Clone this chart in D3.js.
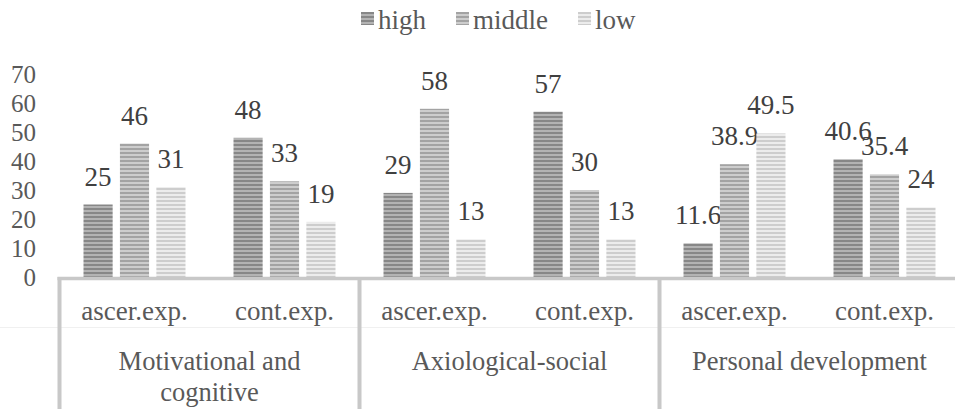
<!DOCTYPE html>
<html>
<head>
<meta charset="utf-8">
<script src="https://cdn.jsdelivr.net/npm/d3@7"></script>
<style>
  html, body { margin: 0; padding: 0; background: #fff; }
  svg { display: block; }
</style>
</head>
<body>
<svg id="chart" width="955" height="409"></svg>
<script>
// ---- data ----
const groups = ["Motivational and cognitive", "Axiological-social", "Personal development"];
const subCategories = ["ascer.exp.", "cont.exp."];
const series = ["high", "middle", "low"];
const highValues   = [25, 48, 29, 57, 11.6, 40.6];
const middleValues = [46, 33, 58, 30, 38.9, 35.4];
const lowValues    = [31, 19, 13, 13, 49.5, 24];
const labelTexts = {
  high:   ["25", "48", "29", "57", "11.6", "40.6"],
  middle: ["46", "33", "58", "30", "38.9", "35.4"],
  low:    ["31", "19", "13", "13", "49.5", "24"]
};
const yTicks = [0, 10, 20, 30, 40, 50, 60, 70];

// ---- setup ----
const FONT = '"Liberation Serif"';
const svg = d3.select("#chart");
const W = 955, H = 409;
const x0 = 59.5, x1 = 959.5;
const yBase = 277, yTop = 74;

const valuesBySeries = { high: highValues, middle: middleValues, low: lowValues };
const cells = [];
groups.forEach((g, gi) => subCategories.forEach((s, si) => cells.push({ g, s, key: gi + "|" + si, idx: gi * 2 + si })));

const xGroup = d3.scaleBand().domain(groups).range([x0, x1]).padding(0);
const xCell = d3.scaleBand().domain(cells.map(c => c.key)).range([x0, x1]).padding(0);
const y = d3.scaleLinear().domain([0, 70]).range([yBase, yTop]);

// patterns
const defs = svg.append("defs");
const patternColors = {
  high:   ["#878787", "#b3b3b3"],
  middle: ["#a3a3a3", "#cdcdcd"],
  low:    ["#cdcdcd", "#ececec"]
};
series.forEach(s => {
  const p = defs.append("pattern").attr("id", "pat-" + s)
    .attr("patternUnits", "userSpaceOnUse").attr("width", 8).attr("height", 4);
  p.append("rect").attr("width", 8).attr("height", 4).attr("fill", patternColors[s][1]);
  p.append("rect").attr("width", 8).attr("height", 2).attr("fill", patternColors[s][0]);
});

// faint horizontal separator
svg.append("line").attr("x1", 0).attr("x2", W).attr("y1", 327.5).attr("y2", 327.5)
  .attr("stroke", "#f0f0f0").attr("stroke-width", 1);

// y axis labels
svg.append("g").selectAll("text").data(yTicks).join("text")
  .style("font-family", FONT)
  .attr("x", 36).attr("y", d => y(d)).attr("dy", "0.35em")
  .attr("text-anchor", "end").attr("font-size", 25).attr("fill", "#595959")
  .text(d => d);

// bars
const inner = d3.scaleBand().domain(series).paddingInner(0.2).paddingOuter(0);
const barsG = svg.append("g");
cells.forEach(c => {
  const cx = xCell(c.key) + xCell.bandwidth() / 2;
  inner.range([cx - 51, cx + 51]);
  series.forEach(s => {
    const v = valuesBySeries[s][c.idx];
    barsG.append("rect")
      .attr("x", inner(s)).attr("width", inner.bandwidth())
      .attr("y", y(v)).attr("height", yBase - y(v))
      .attr("fill", "url(#pat-" + s + ")");
    barsG.append("text").style("font-family", FONT)
      .attr("x", inner(s) + inner.bandwidth() / 2).attr("y", y(v) - 19)
      .attr("text-anchor", "middle").attr("font-size", 27).attr("fill", "#404040")
      .text(labelTexts[s][c.idx]);
  });
});

// category axis lines
const axisColor = "#c8c8c8";
svg.append("line").attr("x1", x0 - 2).attr("x2", W).attr("y1", 278.5).attr("y2", 278.5)
  .attr("stroke", axisColor).attr("stroke-width", 3.5);
const sepX = groups.map(g => xGroup(g)).concat([x1]);
svg.append("g").selectAll("line").data(sepX).join("line")
  .attr("x1", d => d).attr("x2", d => d).attr("y1", 277).attr("y2", H)
  .attr("stroke", axisColor).attr("stroke-width", 4);

// subcategory labels
svg.append("g").selectAll("text").data(cells).join("text")
  .style("font-family", FONT)
  .attr("x", d => xCell(d.key) + xCell.bandwidth() / 2).attr("y", 320)
  .attr("text-anchor", "middle").attr("font-size", 27).attr("fill", "#595959")
  .text(d => d.s);

// group labels with wrapping
const gl = svg.append("g").selectAll("text").data(groups).join("text")
  .style("font-family", FONT)
  .attr("x", d => xGroup(d) + xGroup.bandwidth() / 2).attr("y", 370)
  .attr("text-anchor", "middle").attr("font-size", 26.5).attr("fill", "#595959");
gl.each(function(d) {
  const t = d3.select(this);
  const cx = xGroup(d) + xGroup.bandwidth() / 2;
  const words = d.split(" ");
  let line = [];
  let tspan = t.append("tspan").attr("x", cx).attr("dy", 0);
  words.forEach(w => {
    line.push(w);
    tspan.text(line.join(" "));
    if (tspan.node().getComputedTextLength() > 260 && line.length > 1) {
      line.pop();
      tspan.text(line.join(" "));
      line = [w];
      tspan = t.append("tspan").attr("x", cx).attr("dy", 31).text(w);
    }
  });
});

// legend
const legend = svg.append("g");
let lx = 360;
series.forEach(s => {
  legend.append("rect").attr("x", lx + 1).attr("y", 12).attr("width", 13).attr("height", 13)
    .attr("fill", "url(#pat-" + s + ")");
  const t = legend.append("text").style("font-family", FONT).attr("x", lx + 18).attr("y", 29)
    .attr("font-size", 27).attr("fill", "#595959").text(s);
  lx += 18 + t.node().getComputedTextLength() + 29;
});
</script>
</body>
</html>
